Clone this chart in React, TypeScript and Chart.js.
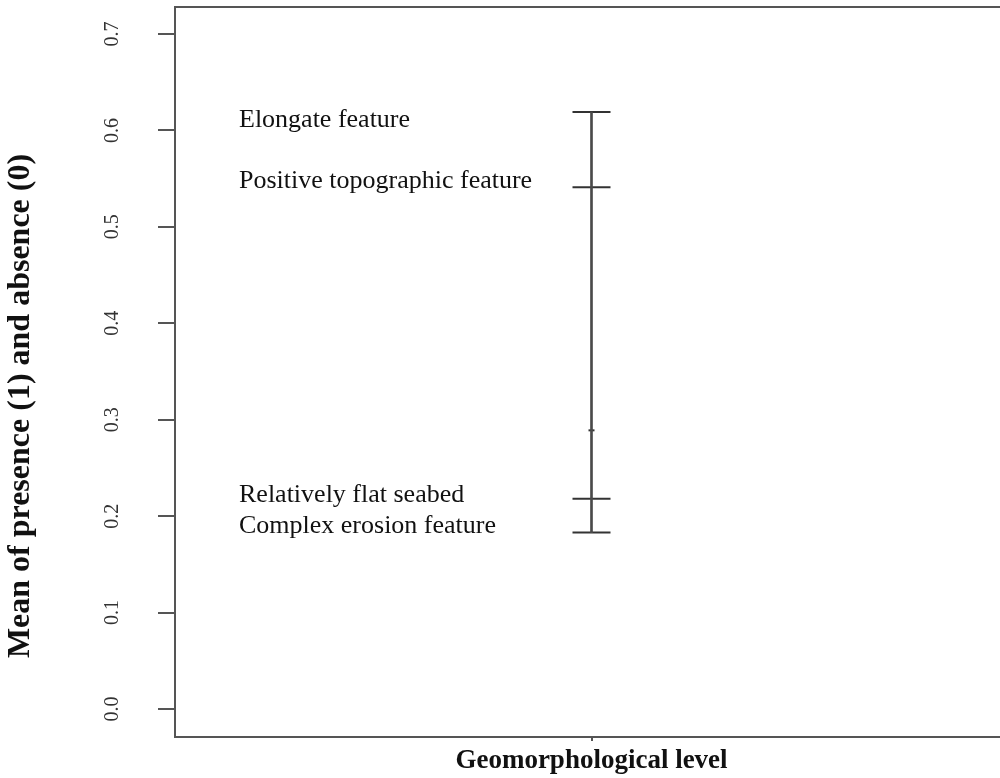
import React, { useEffect, useRef } from "react";
import { Chart, registerables } from "chart.js";

Chart.register(...registerables);

// Factor levels and their mean presence/absence values
const factorName = "Geomorphological level";
const levelNames = [
  "Elongate feature",
  "Positive topographic feature",
  "Relatively flat seabed",
  "Complex erosion feature",
];
const levelMeans = [0.619, 0.541, 0.218, 0.183];
const grandMean = 0.289;

// Y axis
const yTitle = "Mean of presence (1) and absence (0)";
const yTickValues = [0, 0.1, 0.2, 0.3, 0.4, 0.5, 0.6, 0.7];
const yTickLabels = ["0.0", "0.1", "0.2", "0.3", "0.4", "0.5", "0.6", "0.7"];

// Small vertical shifts that keep level names from crowding each other
const labelNudgePx = [8, -6, -4, -6];

const SERIF = "'Liberation Serif', 'Times New Roman', serif";
const FRAME = "#555";

const annotate = {
  id: "designAnnotations",
  afterDraw(chart: any) {
    const { ctx, chartArea, scales } = chart;
    const y = scales.y;
    const x = scales.x;
    ctx.save();

    // plot frame
    ctx.strokeStyle = FRAME;
    ctx.lineWidth = 2;
    ctx.strokeRect(chartArea.left, chartArea.top, chartArea.right - chartArea.left, chartArea.bottom - chartArea.top);

    // rotated y tick labels
    ctx.fillStyle = "#333";
    ctx.font = `20px ${SERIF}`;
    ctx.textAlign = "center";
    ctx.textBaseline = "middle";
    yTickValues.forEach((v, i) => {
      const py = y.getPixelForValue(v);
      ctx.save();
      ctx.translate(chartArea.left - 62, py);
      ctx.rotate(-Math.PI / 2);
      ctx.fillText(yTickLabels[i], 0, 0);
      ctx.restore();
    });

    // y axis title
    ctx.fillStyle = "#111";
    ctx.font = `bold 32px ${SERIF}`;
    ctx.save();
    ctx.translate(21, 406);
    ctx.rotate(-Math.PI / 2);
    ctx.fillText(yTitle, 0, 0);
    ctx.restore();

    // x axis title
    const cx = x.getPixelForValue(0);
    ctx.font = `bold 27px ${SERIF}`;
    ctx.fillText(factorName, cx, chartArea.bottom + 24);

    // level names
    ctx.font = `26px ${SERIF}`;
    ctx.textAlign = "left";
    levelNames.forEach((name, i) => {
      const py = y.getPixelForValue(levelMeans[i]) + labelNudgePx[i];
      ctx.fillText(name, chartArea.left + 64, py);
    });

    ctx.restore();
  },
};

export default function App() {
  const canvasRef = useRef<HTMLCanvasElement | null>(null);

  useEffect(() => {
    const canvas = canvasRef.current;
    if (!canvas) return;
    const lo = Math.min(...levelMeans);
    const hi = Math.max(...levelMeans);

    const chart = new Chart(canvas, {
      type: "bar",
      data: {
        labels: [factorName],
        datasets: [
          {
            type: "bar",
            data: [[lo, hi]] as any,
            backgroundColor: "#4a4a4a",
            borderWidth: 0,
            barThickness: 2,
          } as any,
          {
            type: "line",
            data: levelMeans.map((v) => ({ x: factorName, y: v })) as any,
            showLine: false,
            pointStyle: "line",
            pointRadius: 19,
            pointHoverRadius: 19,
            borderColor: "#333",
            borderWidth: 2,
          } as any,
          {
            type: "line",
            data: [{ x: factorName, y: grandMean }] as any,
            showLine: false,
            pointStyle: "line",
            pointRadius: 3,
            borderColor: "#333",
            borderWidth: 2,
          } as any,
        ],
      },
      options: {
        responsive: false,
        animation: false,
        events: [],
        layout: { autoPadding: false, padding: { top: 7, right: 2, left: 0, bottom: 0 } },
        plugins: {
          legend: { display: false },
          tooltip: { enabled: false },
          title: { display: false },
        },
        scales: {
          x: {
            type: "category",
            offset: true,
            grid: {
              display: true,
              offset: false,
              drawOnChartArea: false,
              drawTicks: true,
              tickLength: 4,
              color: FRAME,
              lineWidth: 2,
            },
            border: { display: false },
            ticks: { display: false },
            afterFit: (s: any) => {
              s.height = 41;
            },
          },
          y: {
            type: "linear",
            min: -0.029,
            max: 0.728,
            afterBuildTicks: (s: any) => {
              s.ticks = yTickValues.map((v) => ({ value: v }));
            },
            grid: {
              display: true,
              drawOnChartArea: false,
              drawTicks: true,
              tickLength: 17,
              color: FRAME,
              lineWidth: 2,
            },
            border: { display: false },
            ticks: { display: false },
            afterFit: (s: any) => {
              s.width = 175;
            },
          },
        },
      } as any,
      plugins: [annotate],
    });

    return () => chart.destroy();
  }, []);

  return (
    <div
      style={{
        position: "fixed",
        left: 0,
        top: 0,
        width: 1000,
        height: 778,
        overflow: "hidden",
        background: "#fff",
      }}
    >
      <canvas ref={canvasRef} width={1010} height={778} style={{ display: "block" }} />
    </div>
  );
}
